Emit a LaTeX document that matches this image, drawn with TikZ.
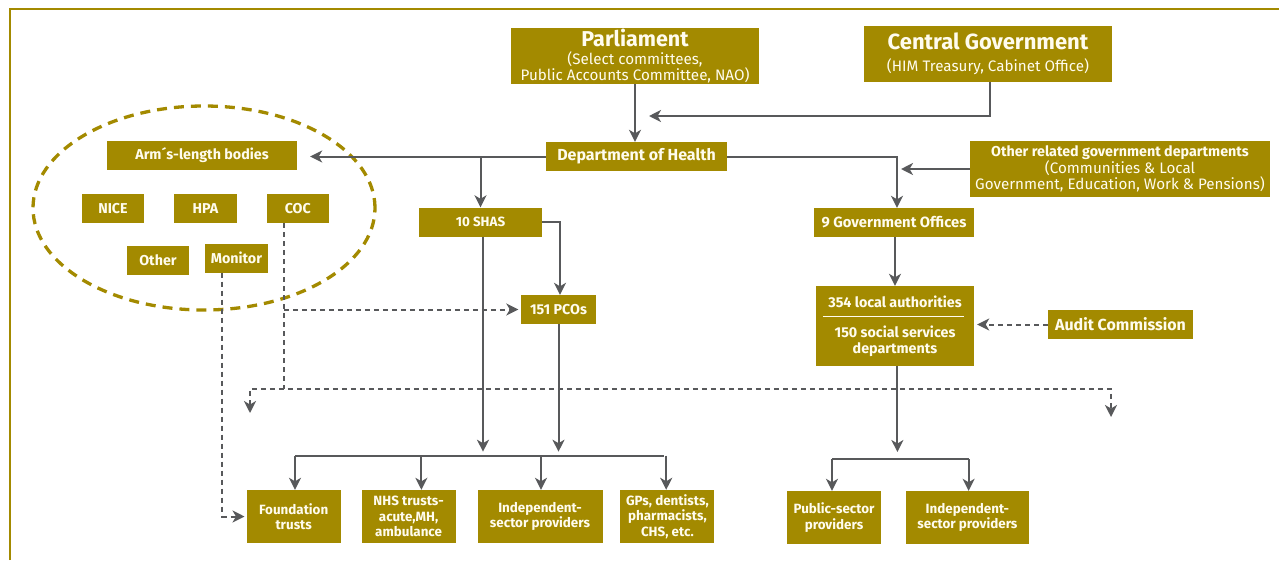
\documentclass[tikz,border=0pt]{standalone}
\usepackage{fontspec}
\setmainfont{Fira Sans}
\usetikzlibrary{positioning,arrows.meta}
\definecolor{gold}{HTML}{A38A00}
\definecolor{wire}{HTML}{58595B}
\definecolor{cream}{HTML}{FFFCEE}
\tikzset{>={Stealth[length=12pt,width=12pt,inset=3.5pt]}}

\begin{document}
\begin{tikzpicture}
        [x=1pt,y=-1pt,
         box/.style={fill=gold,text=cream,inner sep=0pt,minimum height=29pt,align=center,
                     font=\fontsize{14.3}{15.5}\selectfont\bfseries},
         big/.style={font=\fontsize{16}{18}\selectfont\bfseries},
         small/.style={font=\fontsize{13.4}{15.5}\selectfont\bfseries},
         head/.style={box,font=\fontsize{15.2}{15.5}\selectfont},
         link/.style={draw=wire,line width=2pt,->},
         dlink/.style={link,dash pattern=on 5pt off 4pt}]
        \useasboundingbox (0,0) rectangle (1279,560);
        % frame and ellipse
        \draw[gold,line width=2pt] (10,560) -- (10,9.3) -- (1279,9.3);
        \draw[gold,line width=3.3pt,dash pattern=on 10pt off 7pt] (204,208) ellipse [x radius=171pt,y radius=102pt];
        % top
        \node[head,minimum width=248pt,minimum height=56pt](parl) at (635,56)
                {{\fontsize{21.5}{22}\selectfont\bfseries Parliament}\\[3pt] (Select committees,\\ Public Accounts Committee, NAO)};
        \node[head,minimum width=248pt,minimum height=56pt](cgov) at (988,54)
                {{\fontsize{22}{22}\selectfont\bfseries Central Government}\\[7pt] (HIM Treasury, Cabinet Office)};
        \node[box,big,minimum width=181pt](doh) at (636.5,156.5){Department of Health};
        \node[head,minimum width=300pt,minimum height=56pt](ogd) at (1120,169)
                {{\fontsize{14.3}{15.5}\selectfont\bfseries Other related government departments}\\ (Communities \& Local\\ Government, Education, Work \& Pensions)};
        % arm's-length bodies
        \node[box,minimum width=190pt](arm) at (202,155.5){Arm´s-length bodies};
        \node[box,minimum width=62.5pt](nice) at (113,208.5){NICE};
        \node[box,minimum width=62.5pt](hpa)[right =29.5pt of nice]{HPA};
        \node[box,minimum width=62.5pt](coc)[right =29.5pt of hpa]{COC};
        \node[box,minimum width=62.5pt](other) at (158,260){Other};
        \node[box,minimum width=62.5pt](monitor) at (236.4,258){Monitor};
        % middle
        \node[box,small,minimum width=123pt](shas) at (480.5,222){10 SHAS};
        \node[box,big,font=\fontsize{14.8}{16}\selectfont\bfseries,minimum width=160pt](gov) at (894,222.5){9 Government Offices};
        \node[box,minimum width=75pt](pcos) at (558.5,309.5){151 PCOs};
        \node[box,minimum width=158pt,minimum height=80pt](la) at (895,326)
                {354 local authorities\\[15pt] 150 social services\\ departments};
        \node[box,big,minimum width=145pt](audit) at (1120.5,324.5){Audit Commission};
        % providers
        \node[box,small,minimum width=94pt,minimum height=53pt](found) at (293.7,516.5){Foundation\\ trusts};
        \node[box,small,minimum width=94pt,minimum height=53pt](nhs)[right =20.5pt of found]{NHS trusts-\\ acute,MH,\\ ambulance};
        \node[box,small,minimum width=125pt,minimum height=53pt](indep)[right =21.5pt of nhs]{Independent-\\ sector providers};
        \node[box,small,minimum width=94pt,minimum height=53pt](gps)[right =17.5pt of indep]{GPs, dentists,\\ pharmacists,\\ CHS, etc.};
        \node[box,small,minimum width=94pt,minimum height=53pt](pub) at (834,517.5){Public-sector\\ providers};
        \node[box,small,minimum width=123pt,minimum height=53pt](indep2)[right =24.5pt of pub]{Independent-\\ sector providers};
        \draw[cream,line width=1.3pt] ([xshift=7pt,yshift=-30.7pt]la.north west) -- ([xshift=-10pt,yshift=-30.7pt]la.north east);
        % links
        \coordinate (cgin) at (649,116);
        \coordinate (bus) at (295,455.7);
        \coordinate (busend) at (664,455.7);
        \coordinate (bus2) at (832,459);
        \coordinate (bus2end) at (968.6,459);
        \coordinate (dbus) at (1111,389);
        \coordinate (dl) at (250,413);
        \coordinate (dr) at (1111,417);
        \draw[link] (parl.south) -- (parl.south |- doh.north);
        \draw[link] ([xshift=2pt]cgov.south) |- (cgin);
        \draw[link,shorten >=13pt] (doh.west) -- (arm.east |- doh.west);
        \draw[link] (shas.north |- doh.west) -- (shas.north);
        \draw[link] (doh.east) -| ([xshift=3pt]gov.north);
        \draw[link] (ogd.west) -- ([xshift=7pt]gov.north |- ogd.west);
        \draw[link] ([xshift=1pt]gov.south) -- ([xshift=1pt]gov.south |- la.north);
        \draw[link] (shas.east) -| ([xshift=1.5pt]pcos.north);
        \draw[link,shorten >=4pt] ([xshift=2.5pt]shas.south) -- ([xshift=2.5pt]shas.south |- bus);
        \draw[link,shorten >=4pt] (pcos.south) -- (pcos.south |- bus);
        \draw[wire,line width=2pt] (bus) -- (busend);
        \foreach \b/\s in {found/1.3,nhs/12.8,indep/1,gps/-1.2}
                \draw[link] ([xshift=\s pt]\b.north |- bus) -- ([xshift=\s pt]\b.north);
        \draw[link,shorten >=7pt] ([xshift=2.4pt]la.south) -- ([xshift=2.4pt]la.south |- bus2);
        \draw[wire,line width=2pt] (bus2) -- (bus2end);
        \draw[link] (bus2) -- (bus2 |- pub.north);
        \draw[link] (bus2end) -- (bus2end |- indep2.north);
        % dashed links
        \draw[dlink,<->] (dl) |- (dbus) -- (dr);
        \draw[dlink,-] ([xshift=-14pt]coc.south) -- ([xshift=-14pt]coc.south |- dbus);
        \draw[dlink,shorten >=2.5pt] ([xshift=-14pt]coc.south |- pcos.west) -- (pcos.west);
        \draw[dlink,shorten >=2pt] ([xshift=-14pt]monitor.south) |- (found.west);
        \draw[dlink,shorten >=3pt] (audit.west) -- (audit.west -| la.east);
\end{tikzpicture}
\end{document}
